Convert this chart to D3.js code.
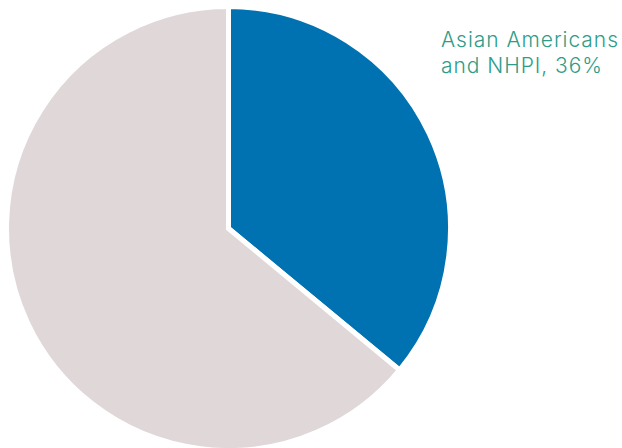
<!DOCTYPE html>
<html>
<head>
<meta charset="utf-8">
<script src="https://cdn.jsdelivr.net/npm/d3@7"></script>
<style>
  html, body { margin: 0; padding: 0; background: #ffffff; }
  svg { display: block; }
</style>
</head>
<body>
<svg id="chart" width="622" height="448"></svg>
<script>
// Share of the group, in percent
const categories = ["Asian Americans and NHPI", "Others"];
const values = [36, 64];
const colors = ["#0072B1", "#E0D7D9"];
const labelLines = ["Asian Americans", "and NHPI, 36%"];

const svg = d3.select("#chart");
const cx = 228.5, cy = 228.5, radius = 222;

const pie = d3.pie().sort(null).value(d => d.value);
const arc = d3.arc().innerRadius(0).outerRadius(radius);

const data = categories.map((c, i) => ({ category: c, value: values[i], color: colors[i] }));

const g = svg.append("g").attr("transform", `translate(${cx},${cy})`);
g.selectAll("path")
  .data(pie(data))
  .join("path")
  .attr("d", arc)
  .attr("fill", d => d.data.color)
  .attr("stroke", "#ffffff")
  .attr("stroke-width", 5)
  .attr("stroke-linejoin", "miter");

// Label for the highlighted slice, one text per line
const labels = svg.selectAll("text.label")
  .data(labelLines)
  .join("text")
  .attr("class", "label")
  .attr("x", 441)
  .attr("y", (d, i) => 47 + i * 25.5)
  .attr("fill", "#2E9C88")
  .attr("font-family", "Inter, Lato, sans-serif")
  .attr("font-weight", 300)
  .attr("font-size", 21)
  .text(d => d);

// Widen the first line to the label's set width
const first = labels.nodes()[0];
const w = first.getComputedTextLength();
const spacing = Math.max(0, (177 - w) / (labelLines[0].length - 1));
labels.attr("letter-spacing", spacing);
</script>
</body>
</html>
